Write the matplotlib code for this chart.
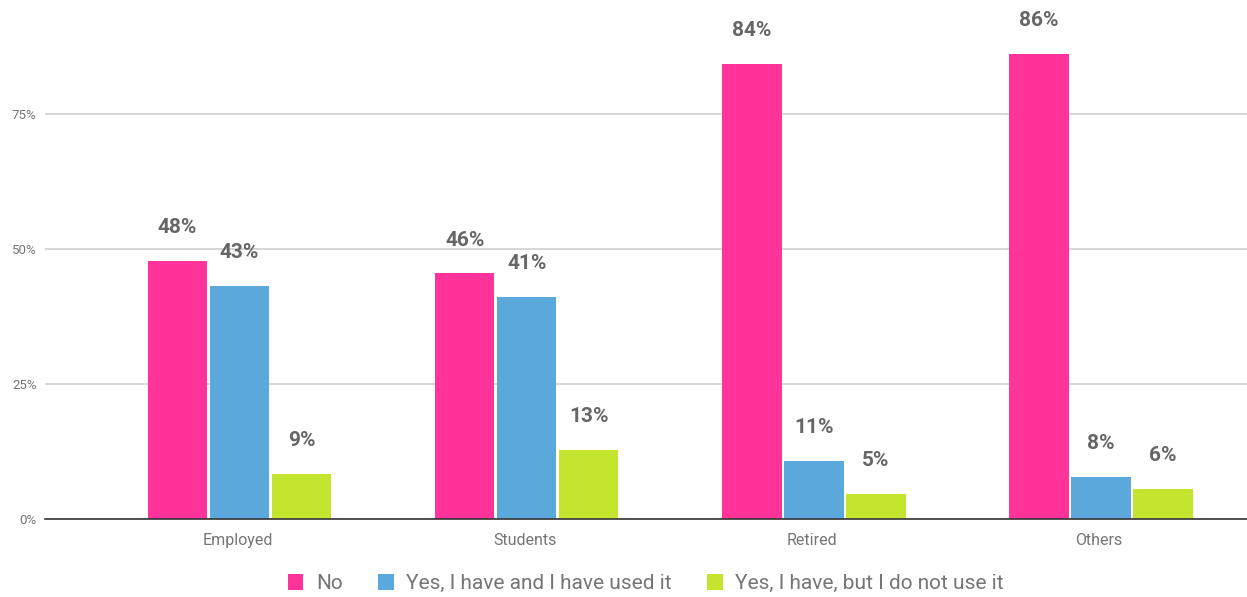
import numpy as np
import matplotlib.pyplot as plt
from matplotlib.ticker import FuncFormatter

plt.rcParams['font.family'] = ['Roboto', 'DejaVu Sans']

categories = ['Employed', 'Students', 'Retired', 'Others']
series_names = ['No', 'Yes, I have and I have used it', 'Yes, I have, but I do not use it']
no_vals = [47.8, 45.5, 84.3, 86.1]
used_vals = [43.1, 41.1, 10.7, 7.8]
unused_vals = [8.3, 12.8, 4.6, 5.6]
labels_no = ['48%', '46%', '84%', '86%']
labels_used = ['43%', '41%', '11%', '8%']
labels_unused = ['9%', '13%', '5%', '6%']
colors = ['#FF3399', '#5BA8DC', '#C3E52E']

fig = plt.figure(figsize=(12.47, 5.97), dpi=100)
ax = fig.add_axes([45 / 1247, 78 / 597, 1 - 45 / 1247, (519 - 2) / 597])

x = np.arange(len(categories))
w = 0.207
step = 0.216
series = [(no_vals, labels_no), (used_vals, labels_used), (unused_vals, labels_unused)]
for i, (vals, labs) in enumerate(series):
    bars = ax.bar(x + (i - 1) * step + 0.006, vals, width=w, color=colors[i],
                  label=series_names[i], zorder=3)
    for b, lab in zip(bars, labs):
        ax.annotate(lab, (b.get_x() + b.get_width() / 2, b.get_height()),
                    xytext=(0, 20), textcoords='offset points',
                    ha='center', va='baseline', fontsize=15,
                    fontweight='bold', color='#666666')

ax.set_xlim(-0.672, 3.515)
ax.set_ylim(0, (519 - 2) / 5.4)
ax.set_yticks([0, 25, 50, 75])
ax.yaxis.set_major_formatter(FuncFormatter(lambda v, p: f'{int(v)}%'))
ax.set_xticks(x)
ax.set_xticklabels(categories)
ax.grid(axis='y', color='#d0d0d0', linewidth=1.2, zorder=0)
for s in ['top', 'right', 'left']:
    ax.spines[s].set_visible(False)
ax.spines['bottom'].set_color('#333333')
ax.spines['bottom'].set_linewidth(1.2)
ax.spines['bottom'].set_zorder(4)
ax.tick_params(axis='y', length=0, labelsize=9.5, labelcolor='#757575', pad=6)
ax.tick_params(axis='x', length=0, labelsize=11.5, labelcolor='#757575', pad=10)

leg = fig.legend(loc='lower center', bbox_to_anchor=(0.518, -0.025), ncol=3,
                 frameon=False, fontsize=15, handlelength=0.75, handleheight=0.75,
                 handletextpad=0.6, columnspacing=1.7)
for t in leg.get_texts():
    t.set_color('#757575')

fig.savefig('out.png', dpi=100)
